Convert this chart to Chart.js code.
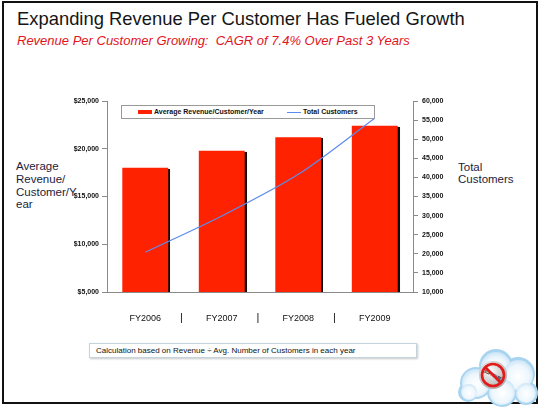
<!DOCTYPE html>
<html>
<head>
<meta charset="utf-8">
<script src="https://cdn.jsdelivr.net/npm/chart.js@4.4.1/dist/chart.umd.min.js"></script>
<style>
  html, body { margin: 0; padding: 0; background: #fff; }
  body { width: 540px; height: 407px; position: relative; overflow: hidden;
         font-family: 'Liberation Sans', Arial, sans-serif; }
  .marco { position: absolute; left: 2px; top: 1px; width: 532px; height: 399px;
           border: 2px solid #111; }
  .titulo { position: absolute; left: 17px; top: 8px; font-size: 18.4px; color: #151515; white-space: nowrap; }
  .subtitulo { position: absolute; left: 17px; top: 33px; font-size: 13px; font-style: italic;
               color: #e0141c; white-space: nowrap; }
  .eje-izq { position: absolute; left: 16px; top: 160px; font-size: 11.5px; line-height: 12.8px; color: #1c1c3a; }
  .eje-der { position: absolute; left: 458px; top: 161px; font-size: 11.5px; line-height: 12px; color: #1c1c3a; }
  #grafico { position: absolute; left: 40px; top: 90px; }
  .leyenda { position: absolute; left: 121px; top: 105px; width: 252px; height: 12px;
             border: 1px solid #9a9a9a; background: #fff; font-size: 7px; font-weight: bold; color: #111; }
  .leyenda span { position: absolute; top: 2px; white-space: nowrap; }
  .muestra-barra { position: absolute; left: 16px; top: 4px; width: 14px; height: 4px; background: #ff2200; }
  .muestra-linea { position: absolute; left: 165px; top: 6px; width: 14px; height: 1px; background: #5b8cf0; }
  .nota { position: absolute; left: 89px; top: 343px; width: 326px; height: 13px;
          border: 1px solid #c5d3dc; box-shadow: 1px 1px 2px #c8c8c8; background: #fff;
          font-size: 8px; color: #111; }
  .nota span { position: absolute; left: 6px; top: 1.5px; white-space: nowrap; }
  .logo { position: absolute; left: 456px; top: 347px; }
</style>
</head>
<body>
<div class="marco"></div>
<div class="titulo">Expanding Revenue Per Customer Has Fueled Growth</div>
<div class="subtitulo">Revenue Per Customer Growing:&nbsp; CAGR of 7.4% Over Past 3 Years</div>
<div class="eje-izq">Average<br>Revenue/<br>Customer/Y<br>ear</div>
<div class="eje-der">Total<br>Customers</div>

<canvas id="grafico" width="420" height="240"></canvas>

<div class="leyenda" id="leyenda">
  <div class="muestra-barra"></div><span id="ley0" style="left:32px"></span>
  <div class="muestra-linea"></div><span id="ley1" style="left:181px"></span>
</div>

<div class="nota"><span>Calculation based on Revenue ÷ Avg. Number of Customers in each year</span></div>

<svg class="logo" width="84" height="60" viewBox="0 0 84 60">
  <defs>
    <radialGradient id="nube" cx="50%" cy="55%" r="60%">
      <stop offset="0%" stop-color="#ffffff"/>
      <stop offset="60%" stop-color="#eef7fd"/>
      <stop offset="100%" stop-color="#c2e0f5"/>
    </radialGradient>
    <radialGradient id="disco" cx="40%" cy="35%" r="70%">
      <stop offset="0%" stop-color="#ffffff"/>
      <stop offset="100%" stop-color="#a8a8a8"/>
    </radialGradient>
  </defs>
  <g fill="#a9d4f0">
    <circle cx="20" cy="36" r="16"/>
    <circle cx="40" cy="19" r="17"/>
    <circle cx="62" cy="27" r="17"/>
    <circle cx="46" cy="45" r="15"/>
    <circle cx="12" cy="45" r="10"/>
    <circle cx="70" cy="46" r="12"/>
  </g>
  <g fill="url(#nube)">
    <circle cx="20" cy="36" r="14"/>
    <circle cx="40" cy="20" r="15"/>
    <circle cx="62" cy="28" r="15"/>
    <circle cx="46" cy="45" r="13"/>
    <circle cx="13" cy="45" r="8"/>
    <circle cx="70" cy="46" r="10"/>
  </g>
  <circle cx="37" cy="28" r="14" fill="url(#disco)"/>
  <circle cx="37" cy="28" r="11" fill="none" stroke="#e21a1a" stroke-width="2.6"/>
  <text x="37" y="29.8" font-size="5" font-weight="bold" font-family="Liberation Sans, Arial"
        text-anchor="middle" fill="#111" textLength="19" lengthAdjust="spacingAndGlyphs"
        transform="rotate(28 37 28)">SOFTWARE</text>
  <line x1="29.5" y1="20.5" x2="44.5" y2="35.5" stroke="#e21a1a" stroke-width="2.6"/>
</svg>

<script>
// Datos
const categorias = ['FY2006', 'FY2007', 'FY2008', 'FY2009'];
const ingresoPorCliente = [18000, 19800, 21200, 22400];
const totalClientes = [20400, 29900, 40800, 55500];
const etiquetasSeries = ['Average Revenue/Customer/Year', 'Total Customers'];
const ticksIzq = { min: 5000, max: 25000, paso: 5000 };
const ticksDer = { min: 10000, max: 60000, paso: 5000 };

const fuente = "'Liberation Sans', Arial, sans-serif";

// Sombra negra a la derecha de las barras
const sombraBarras = {
    id: 'sombraBarras',
    beforeDatasetDraw(chart, args) {
        if (args.meta.type !== 'bar') return;
        const ctx = chart.ctx;
        ctx.save();
        ctx.shadowColor = 'rgba(0,0,0,0.95)';
        ctx.shadowOffsetX = 2;
        ctx.shadowOffsetY = 1;
        ctx.shadowBlur = 0.5;
    },
    afterDatasetDraw(chart, args) {
        if (args.meta.type !== 'bar') return;
        chart.ctx.restore();
    }
};

// Separadores "|" entre categorías, debajo del eje
const separadores = {
    id: 'separadores',
    afterDraw(chart) {
        const x = chart.scales.x;
        const ctx = chart.ctx;
        ctx.save();
        ctx.fillStyle = '#111';
        ctx.font = '11px ' + fuente;
        ctx.textAlign = 'center';
        ctx.textBaseline = 'middle';
        for (let i = 0; i < categorias.length - 1; i++) {
            const px = (x.getPixelForTick(i) + x.getPixelForTick(i + 1)) / 2 - 2;
            ctx.fillText('|', px, x.bottom - 12);
        }
        ctx.restore();
    }
};

const formatoMiles = v => v.toLocaleString('en-US');

new Chart(document.getElementById('grafico'), {
    data: {
        labels: categorias,
        datasets: [{
            type: 'bar',
            label: etiquetasSeries[0],
            data: ingresoPorCliente,
            backgroundColor: '#ff2200',
            yAxisID: 'y',
            barPercentage: 0.6,
            categoryPercentage: 1.0,
            order: 1
        }, {
            type: 'line',
            label: etiquetasSeries[1],
            data: totalClientes,
            borderColor: '#5b8cf0',
            borderWidth: 1.2,
            pointRadius: 0,
            tension: 0.3,
            fill: false,
            yAxisID: 'y1',
            order: 0
        }]
    },
    options: {
        responsive: false,
        animation: false,
        layout: { padding: { top: 11, left: 0, right: 0, bottom: 0 } },
        plugins: {
            legend: { display: false },
            tooltip: { enabled: false }
        },
        scales: {
            x: {
                grid: { display: true, drawOnChartArea: false, drawTicks: false },
                border: { display: true, color: '#8a8a8a' },
                ticks: { color: '#111', font: { family: fuente, size: 9 }, padding: 21 },
                afterFit: s => { s.height = 38; }
            },
            y: {
                position: 'left',
                min: ticksIzq.min,
                max: ticksIzq.max,
                grid: { drawOnChartArea: false, color: '#8a8a8a', tickLength: 5 },
                border: { color: '#8a8a8a' },
                ticks: {
                    stepSize: ticksIzq.paso,
                    padding: 3,
                    color: '#111',
                    font: { family: fuente, size: 7, weight: 'bold' },
                    callback: v => '$' + formatoMiles(v)
                },
                afterFit: s => { s.width = 67; }
            },
            y1: {
                position: 'right',
                min: ticksDer.min,
                max: ticksDer.max,
                grid: { drawOnChartArea: false, color: '#8a8a8a', tickLength: 5 },
                border: { color: '#8a8a8a' },
                ticks: {
                    stepSize: ticksDer.paso,
                    padding: 4,
                    color: '#111',
                    font: { family: fuente, size: 7, weight: 'bold' },
                    callback: v => formatoMiles(v)
                },
                afterFit: s => { s.width = 47; }
            }
        }
    },
    plugins: [sombraBarras, separadores]
});

// Leyenda dentro del área del gráfico
document.getElementById('ley0').textContent = etiquetasSeries[0];
document.getElementById('ley1').textContent = etiquetasSeries[1];
</script>
</body>
</html>
